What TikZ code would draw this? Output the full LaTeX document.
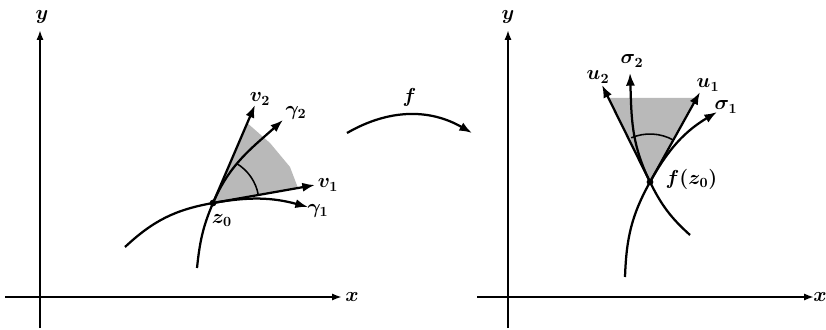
\documentclass[tikz,border=0pt]{standalone}
\usetikzlibrary{arrows.meta, positioning}

\begin{document}
\begin{tikzpicture}[
  ax/.style={-{Latex[length=7pt,width=5pt]}, line width=1.3pt},
  vec/.style={-{Latex[length=9pt,width=6.5pt]}, line width=1.6pt},
  crv/.style={line width=1.6pt},
  ang/.style={line width=1.1pt},
  shd/.style={fill=gray!55, draw=none},
  pt/.style={circle, fill, inner sep=1.7pt},
  lbl/.style={font=\Large\boldmath, inner sep=1pt}
]
  \useasboundingbox (0,0) rectangle (20.65,8.225);

  % left plane
  \coordinate (lx0) at (0.125,0.8);  \coordinate (lx1) at (8.55,0.8);
  \coordinate (ly0) at (1.0,0.025);  \coordinate (ly1) at (1.0,7.475);
  \node[pt](z0) at (5.325,3.15) {};
  \coordinate (v1e) at (7.875,3.6);  \coordinate (v2e) at (6.375,5.6);
  \coordinate (g1s) at (3.125,2.05); \coordinate (g1e) at (7.7,3.05);
  \coordinate (g2s) at (4.925,1.525);\coordinate (g2e) at (7.075,5.225);

  \fill[shd] (z0.center) -- (6.18,5.15) -- (6.75,4.65) -- (7.25,4.05) -- (7.45,3.525) -- cycle;
  \draw[ax] (lx0) -- (lx1);
  \draw[ax] (ly0) -- (ly1);
  \foreach \e in {v1e, v2e}{\draw[vec] (z0.center) -- (\e);}
  \draw[vec] (g1s) to[out=43,in=190] (z0.center) to[out=10,in=165] (g1e);
  \draw[vec] (g2s) to[out=84,in=246.8] (z0.center) to[out=66.8,in=222] (g2e);
  \draw[ang] ([shift={(10:1.15)}]z0.center) arc[start angle=10, end angle=59, radius=1.15];

  \node[lbl](lxl) at (8.8,0.8)    {$x$};
  \node[lbl](lyl) at (1.05,7.8)   {$y$};
  \node[lbl](v2l) at (6.5,5.75)   {$v_2$};
  \node[lbl](g2l) at (7.4,5.4)    {$\gamma_2$};
  \node[lbl](v1l) at (8.2,3.6)    {$v_1$};
  \node[lbl](g1l) at (7.95,2.95)  {$\gamma_1$};
  \node[lbl](z0l) at (5.55,2.72)  {$z_0$};

  % the map f
  \coordinate (fa) at (8.675,4.9);  \coordinate (fb) at (11.8,4.9);
  \draw[vec] (fa) to[bend left=30] node[lbl, above=4pt](fl){$f$} (fb);

  % right plane
  \coordinate (rx0) at (11.925,0.8); \coordinate (rx1) at (20.35,0.8);
  \coordinate (ry0) at (12.7,0.025); \coordinate (ry1) at (12.7,7.475);
  \node[pt](fz0) at (16.25,3.675) {};
  \coordinate (u1e) at (17.5,5.925); \coordinate (u2e) at (15.05,6.1);
  \coordinate (s1s) at (15.625,1.3); \coordinate (s1e) at (17.925,5.425);
  \coordinate (s2s) at (17.25,2.35); \coordinate (s2e) at (15.75,6.4);

  \fill[shd] (fz0.center) -- (15.21,5.775) -- (17.417,5.775) -- cycle;
  \draw[ax] (rx0) -- (rx1);
  \draw[ax] (ry0) -- (ry1);
  \foreach \e in {u1e, u2e}{\draw[vec] (fz0.center) -- (\e);}
  \draw[vec] (s1s) to[out=88,in=240.9] (fz0.center) to[out=60.9,in=211] (s1e);
  \draw[vec] (s2s) to[out=138,in=-63.7] (fz0.center) to[out=116.3,in=-88] (s2e);
  \draw[ang] ([shift={(61:1.2)}]fz0.center) arc[start angle=61, end angle=113, radius=1.2];

  \node[lbl](rxl) at (20.5,0.8)    {$x$};
  \node[lbl](ryl) at (12.7,7.8)    {$y$};
  \node[lbl](s2l) at (15.8,6.7)    {$\sigma_2$};
  \node[lbl](u2l) at (14.95,6.3)   {$u_2$};
  \node[lbl](u1l) at (17.7,6.1)    {$u_1$};
  \node[lbl](s1l) at (18.15,5.55)  {$\sigma_1$};
  \node[lbl, anchor=west](fzl) at (16.6,3.75) {$f(z_0)$};
\end{tikzpicture}
\end{document}
